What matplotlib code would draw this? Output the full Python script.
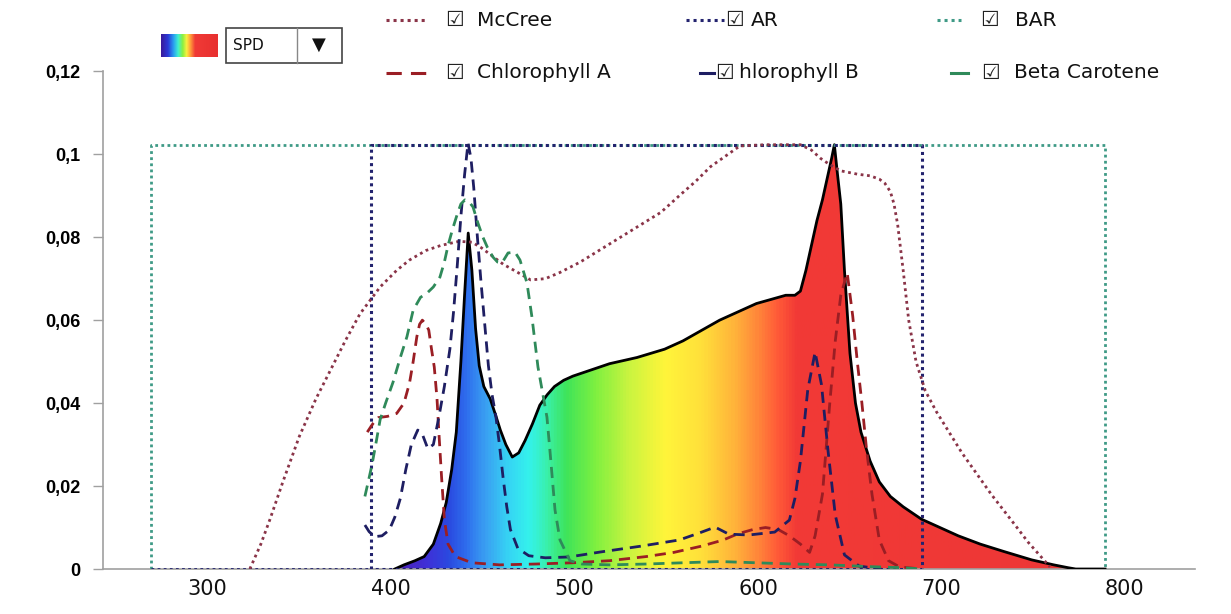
import numpy as np
import matplotlib
matplotlib.use("Agg")
import matplotlib.pyplot as plt
from matplotlib.lines import Line2D
from matplotlib.patches import Rectangle
from matplotlib.colors import LinearSegmentedColormap

# ---------------- data ----------------
spd_nm = [413, 418, 424, 429, 434, 438, 441, 444, 446.5, 449, 451, 453, 455, 457, 459,
          461.5, 465, 468, 470.5, 473.5, 477, 480.5, 484, 488, 492, 496, 500, 505, 510, 520,
          530, 545, 560, 570, 580, 590, 600, 610, 618, 626, 631, 634, 637, 640, 643, 646,
          649, 651, 652.5, 654, 656, 658, 661, 664, 667, 672, 677, 683, 690, 700, 710, 720,
          732, 745, 760, 772, 780, 784, 800]
spd_val = [0.0, 0.001, 0.002, 0.003, 0.006, 0.011, 0.016, 0.024, 0.033, 0.050, 0.066, 0.081,
           0.072, 0.058, 0.049, 0.044, 0.041, 0.037, 0.0335, 0.030, 0.027, 0.028, 0.031,
           0.035, 0.0395, 0.042, 0.044, 0.0455, 0.0465, 0.048, 0.0495, 0.051, 0.053, 0.055,
           0.0575, 0.060, 0.062, 0.064, 0.065, 0.066, 0.066, 0.067, 0.072, 0.078, 0.084,
           0.089, 0.095, 0.099, 0.1023, 0.096, 0.088, 0.072, 0.052, 0.040, 0.033, 0.026,
           0.021, 0.0175, 0.015, 0.012, 0.010, 0.008, 0.006, 0.0042, 0.0022, 0.001, 0.0003,
           0.0, 0.0]

mccree_nm = [334, 340, 345, 352, 361, 370, 378, 386, 394, 405, 414, 421, 430, 438, 448, 455, 460,
             466, 472, 480, 487, 495, 503, 514, 525, 536, 547, 558, 568, 577, 585, 593, 601, 615,
             628, 634, 640, 645, 650, 656, 665, 672, 677, 680, 683, 685, 687, 690, 693, 697, 702,
             708, 715, 722, 730, 738, 745, 752, 758, 764, 770]
mccree_val = [0.0, 0.006, 0.012, 0.021, 0.032, 0.041, 0.048, 0.055, 0.0615, 0.068, 0.072, 0.0745,
              0.0768, 0.078, 0.079, 0.0788, 0.0775, 0.0755, 0.0735, 0.0715, 0.0697, 0.0700, 0.0715,
              0.0740, 0.0770, 0.0800, 0.0830, 0.0860, 0.0900, 0.0935, 0.0970, 0.0995, 0.1020,
              0.1023, 0.1023, 0.1023, 0.1010, 0.0990, 0.0975, 0.0960, 0.0952, 0.0948, 0.0940,
              0.0930, 0.0910, 0.0880, 0.0830, 0.0720, 0.0600, 0.0500, 0.0430, 0.0380, 0.0330,
              0.0280, 0.0230, 0.0180, 0.0140, 0.0100, 0.0065, 0.0035, 0.0005]

chla_nm = [398, 401, 404, 409, 414, 418, 421, 423, 425, 426.5, 428, 430, 431.5, 433, 434.5,
           436, 437, 438.5, 440, 442, 446, 455, 470, 490, 510, 530, 550, 565, 580, 592, 600,
           608, 615, 622, 628, 634, 639, 642, 646, 650, 653, 656, 659.5, 662.5, 665, 667.5,
           670, 673, 677, 682, 688, 700]
chla_val = [0.033, 0.035, 0.0365, 0.0368, 0.0375, 0.040, 0.0448, 0.050, 0.056, 0.059, 0.060,
            0.059, 0.0576, 0.053, 0.0487, 0.041, 0.033, 0.022, 0.012, 0.006, 0.003, 0.0015,
            0.001, 0.0012, 0.0015, 0.002, 0.003, 0.004, 0.0055, 0.007, 0.0085, 0.0095, 0.010,
            0.0095, 0.008, 0.006, 0.004, 0.008, 0.018, 0.040, 0.055, 0.066, 0.0714, 0.061,
            0.050, 0.040, 0.029, 0.018, 0.007, 0.002, 0.0005, 0.0]

chlb_nm = [396.7, 399, 402, 406, 410, 413, 416, 419, 422, 425.5, 428, 431, 434, 437, 440,
           443, 445, 447, 449, 451, 452.9, 454.5, 456, 458, 460, 462, 464, 466, 468, 470,
           472, 474, 476, 480, 486, 495, 508, 525, 547, 568, 579, 587.5, 595, 606, 620, 628,
           631, 634, 638, 642, 645.5, 649, 653, 658, 666, 678]
chlb_val = [0.0106, 0.0090, 0.0078, 0.0080, 0.0094, 0.0125, 0.0170, 0.0240, 0.0300, 0.0335,
            0.0325, 0.0290, 0.0300, 0.0366, 0.0440, 0.0530, 0.0620, 0.0730, 0.0850, 0.0950,
            0.1027, 0.0990, 0.0920, 0.0800, 0.0690, 0.0590, 0.0490, 0.0420, 0.0370, 0.0300,
            0.0220, 0.0150, 0.0095, 0.0050, 0.0032, 0.0027, 0.0029, 0.0041, 0.0055, 0.0070,
            0.0087, 0.0101, 0.0084, 0.0082, 0.0089, 0.0118, 0.0170, 0.0260, 0.0432, 0.0523,
            0.0444, 0.0287, 0.0130, 0.0034, 0.0007, 0.0]

beta_nm = [396.7, 398.5, 400.5, 403, 405, 408, 412, 416, 419.6, 423, 427, 430.5, 434, 437.6,
           440, 442, 444.5, 447, 449, 451.2, 453.5, 455.6, 458.3, 461, 463.5, 466.5, 469,
           471.4, 474.7, 478.5, 481.2, 485, 487.7, 491, 495.9, 497.5, 500.3, 503, 508.4, 515,
           530, 550, 570, 590, 610, 630, 650, 670, 690, 700]
beta_val = [0.0175, 0.021, 0.025, 0.031, 0.036, 0.040, 0.045, 0.051, 0.056, 0.0624, 0.0655,
            0.0665, 0.068, 0.0704, 0.074, 0.078, 0.082, 0.0855, 0.088, 0.0890, 0.0885, 0.0873,
            0.0834, 0.0800, 0.0775, 0.0752, 0.0740, 0.0738, 0.0762, 0.0764, 0.0745, 0.0690,
            0.0608, 0.0487, 0.0366, 0.0287, 0.0142, 0.0070, 0.0020, 0.0012, 0.0010, 0.0012,
            0.0015, 0.0018, 0.0015, 0.0012, 0.0010, 0.0006, 0.0003, 0.0]

ar_range = [400, 700]
bar_range = [280, 800]
box_height = 0.1023

x_ticks = [300, 400, 500, 600, 700, 800]
y_ticks = [0, 0.02, 0.04, 0.06, 0.08, 0.1, 0.12]
y_tick_labels = ["0", "0,02", "0,04", "0,06", "0,08", "0,1", "0,12"]

legend_labels = ["McCree", "AR", "BAR", "Chlorophyll A", "hlorophyll B", "Beta Carotene"]

# ---------------- styling ----------------
W, H = 1231, 614
fig = plt.figure(figsize=(W / 100, H / 100), dpi=100)
fig.patch.set_facecolor("white")

def fx(px):
    return px / W

def fy(py):
    return 1 - py / H

ax_left, ax_right, ax_top, ax_bot = 103, 1195, 71.3, 569
ax = fig.add_axes([fx(ax_left), fy(ax_bot), fx(ax_right - ax_left), (ax_bot - ax_top) / H])
ax.set_xlim(254, 849)
ax.set_ylim(0, 0.12)

c_mccree = "#8a3448"
c_ar = "#23236e"
c_bar = "#3f9a86"
c_chla = "#9a1e24"
c_chlb = "#1e1e62"
c_beta = "#2f8a5a"

# spectrum gradient
spec_nodes = [380, 415, 430, 442, 452, 462, 475, 486, 496, 506, 522, 540, 560, 580, 598, 610,
              622, 632, 800]
spec_cols = ["#3a0a8a", "#4a22b8", "#3f30d8", "#2a4ae0", "#2f70ee", "#3aa0f2", "#36d6f4",
             "#34f2ec", "#3af0a8", "#3ee45a", "#7ef040", "#c8f440", "#fff53a", "#ffe03a",
             "#ffb43a", "#ff8a3a", "#ff5a38", "#f23a36", "#ec3636"]
cmap = LinearSegmentedColormap.from_list(
    "spec", [((n - 380) / 420, c) for n, c in zip(spec_nodes, spec_cols)])
grad = np.linspace(0, 1, 800).reshape(1, -1)
poly = ax.fill_between(spd_nm, spd_val, 0, color="none", lw=0, zorder=2)
im = ax.imshow(grad, cmap=cmap, aspect="auto", extent=[380, 800, 0, 0.11],
               origin="lower", zorder=2, interpolation="bilinear")
im.set_clip_path(poly.get_paths()[0], transform=ax.transData)
ax.plot(spd_nm, spd_val, color="black", lw=2.0, zorder=3, solid_joinstyle="round")

# BAR / AR boxes
ax.plot([bar_range[0], bar_range[0], bar_range[1], bar_range[1]],
        [0, box_height, box_height, 0], color=c_bar, lw=2.0, ls=(0, (1, 1.2)), zorder=4)
ax.plot([bar_range[0], ar_range[0]], [0, 0], color=c_ar, lw=2.0, ls=(0, (1, 1.2)), zorder=4)
ax.plot([ar_range[0], ar_range[0], ar_range[1], ar_range[1], ar_range[0]],
        [0, box_height, box_height, 0, 0], color=c_ar, lw=2.2, ls=(0, (1, 1.2)), zorder=4)

ax.plot(mccree_nm, mccree_val, color=c_mccree, lw=2.0, ls=(0, (1, 1.3)), zorder=5)
ax.plot(chla_nm, chla_val, color=c_chla, lw=2.0, ls=(0, (4, 2.5)), zorder=5)
ax.plot(chlb_nm, chlb_val, color=c_chlb, lw=2.0, ls=(0, (4, 2.5)), zorder=5)
ax.plot(beta_nm, beta_val, color=c_beta, lw=2.0, ls=(0, (4, 2.5)), zorder=5)

# axes look
for s in ["top", "right"]:
    ax.spines[s].set_visible(False)
ax.spines["left"].set_color("#a0a0a0")
ax.spines["bottom"].set_color("#a0a0a0")
ax.spines["left"].set_linewidth(1.2)
ax.spines["bottom"].set_linewidth(1.2)
ax.set_yticks(y_ticks)
ax.set_yticklabels(y_tick_labels, fontsize=13, fontweight="bold", family="Liberation Sans")
ax.tick_params(axis="y", length=7, width=1.0, color="#a0a0a0", pad=9)
ax.set_xticks(x_ticks)
ax.set_xticklabels([str(t) for t in x_ticks], fontsize=15, family="DejaVu Sans")
ax.tick_params(axis="x", length=0, pad=7)
for lab in ax.get_xticklabels():
    lab.set_horizontalalignment("left")
    lab.set_color("#111111")

# ---------------- legend ----------------
row_y = [20, 73]
items = [
    (386, 427, 445, 477, c_mccree, (0, (1, 1.3)), legend_labels[0], 0),
    (686, 724, 725, 751, c_ar, (0, (1, 1.3)), legend_labels[1], 0),
    (937, 961, 980, 1015, c_bar, (0, (1, 1.3)), legend_labels[2], 0),
    (386, 426, 445, 477, c_chla, (0, (5, 3)), legend_labels[3], 1),
    (700, 714, 715, 739, c_chlb, "-", legend_labels[4], 1),
    (951, 968, 981, 1014, c_beta, "-", legend_labels[5], 1),
]
for x0, x1, cbx, tx, col, ls, lab, r in items:
    yy = row_y[r]
    fig.add_artist(Line2D([fx(x0), fx(x1)], [fy(yy), fy(yy)], transform=fig.transFigure,
                          color=col, lw=2.2, ls=ls))
    fig.text(fx(cbx), fy(yy), "\u2611", fontsize=15, va="center", ha="left",
             family="DejaVu Sans", color="#222222")
    fig.text(fx(tx), fy(yy), lab, fontsize=14.5, va="center", ha="left",
             family="DejaVu Sans", color="#111111")

# spectrum icon
icon_nodes = [0, 0.12, 0.22, 0.3, 0.38, 0.45, 0.52, 0.6, 1.0]
icon_cols = ["#3a1a9a", "#2a3ad8", "#2aa0f0", "#40f0d0", "#8af040", "#f8f040", "#ff9a3a",
             "#f03a36", "#e83030"]
icon_cmap = LinearSegmentedColormap.from_list("icon", list(zip(icon_nodes, icon_cols)))
icon_ax = fig.add_axes([fx(161), fy(57), fx(57), 23 / H])
icon_ax.imshow(np.linspace(0, 1, 200).reshape(1, -1), cmap=icon_cmap, aspect="auto")
icon_ax.axis("off")

# SPD dropdown
fig.add_artist(Rectangle((fx(226), fy(63)), fx(116), 35 / H, transform=fig.transFigure,
                         facecolor="white", edgecolor="#444444", lw=1.2))
fig.add_artist(Line2D([fx(297), fx(297)], [fy(63), fy(28)], transform=fig.transFigure,
                      color="#888888", lw=1.0))
fig.text(fx(233), fy(46), "SPD", fontsize=11, va="center", ha="left", family="DejaVu Sans",
         color="#111111")
fig.text(fx(319), fy(45), "\u25bc", fontsize=13, va="center", ha="center", family="DejaVu Sans",
         color="#111111")

fig.savefig("out.png", dpi=100, facecolor="white")
